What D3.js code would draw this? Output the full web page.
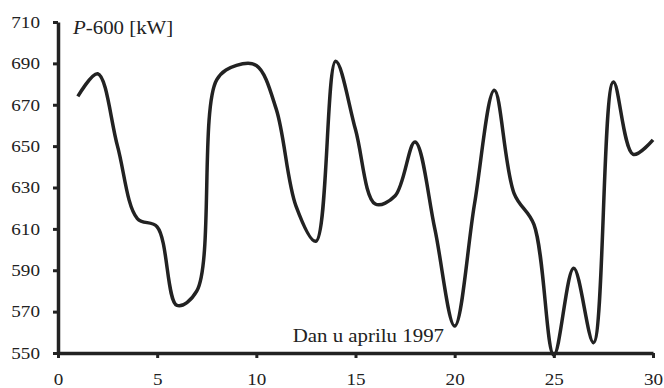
<!DOCTYPE html>
<html>
<head>
<meta charset="utf-8">
<script src="https://cdn.jsdelivr.net/npm/d3@7"></script>
<style>
  body { margin: 0; background: #fff; }
  text { font-family: "Liberation Serif", "Times New Roman", serif; fill: #222; }
</style>
</head>
<body>
<script>
// chart size
let width = 664,
  height = 388;

// day of month and measured power (P - 600 kW)
let days = [1, 2, 3, 4, 5, 6, 7, 8, 9, 10, 11, 12, 13, 14, 15,
  16, 17, 18, 19, 20, 21, 22, 23, 24, 25, 26, 27, 28, 29, 30];
let power = [674, 685, 650, 615, 611, 573, 580, 682, 689, 689, 668, 621, 604, 691, 658,
  622, 626, 652, 610, 563, 622, 677, 627, 612, 549, 591, 555, 681, 646, 653];

// tick labels
let xTicks = [0, 5, 10, 15, 20, 25, 30];
let yTicks = [550, 570, 590, 610, 630, 650, 670, 690, 710];

// text in the original is a bit wider than plain Times
let stretch = 1.16;

let margin = { top: 22, right: 11, bottom: 35, left: 58 };

let svg = d3.select("body")
  .append("svg")
  .attr("width", width)
  .attr("height", height);

let x = d3.scaleLinear()
  .domain([0, 30])
  .range([margin.left, width - margin.right]);

let y = d3.scaleLinear()
  .domain([550, 710])
  .range([height - margin.bottom, margin.top]);

// y axis
let yAxis = svg.append("g")
  .attr("transform", "translate(" + margin.left + ",0)")
  .call(d3.axisLeft(y).tickValues(yTicks).tickSize(5).tickPadding(13).tickSizeOuter(0));

// x axis
let xAxis = svg.append("g")
  .attr("transform", "translate(0," + y(550) + ")")
  .call(d3.axisBottom(x).tickValues(xTicks).tickSize(5).tickPadding(15).tickSizeOuter(0));

[xAxis, yAxis].forEach(g => {
  g.select(".domain").attr("stroke", "#222").attr("stroke-width", 3.5);
  g.selectAll(".tick line").attr("stroke", "#222").attr("stroke-width", 3);
  g.selectAll(".tick text")
    .attr("fill", "#222")
    .style("font-family", "'Liberation Serif', serif")
    .style("font-size", "16.5px");
});

yAxis.selectAll(".tick text")
  .attr("x", -18 / stretch)
  .attr("transform", "scale(" + stretch + ",1)");
xAxis.selectAll(".tick text")
  .attr("transform", "scale(" + stretch + ",1)");

// power curve
let line = d3.line()
  .x((d, i) => x(days[i]))
  .y(d => y(d))
  .curve(d3.curveCatmullRom.alpha(0.5));

svg.append("path")
  .datum(power)
  .attr("d", line)
  .attr("fill", "none")
  .attr("stroke", "#222")
  .attr("stroke-width", 3.5)
  .attr("stroke-linejoin", "round");

// axis titles
let title = svg.append("text")
  .attr("transform", "translate(73,34) scale(" + stretch + ",1)")
  .style("font-size", "18px");
title.append("tspan").style("font-style", "italic").text("P");
title.append("tspan").text("-600 [kW]");

svg.append("text")
  .attr("transform", "translate(444,342) scale(" + stretch + ",1)")
  .attr("text-anchor", "end")
  .style("font-size", "18px")
  .text("Dan u aprilu 1997");
</script>
</body>
</html>
